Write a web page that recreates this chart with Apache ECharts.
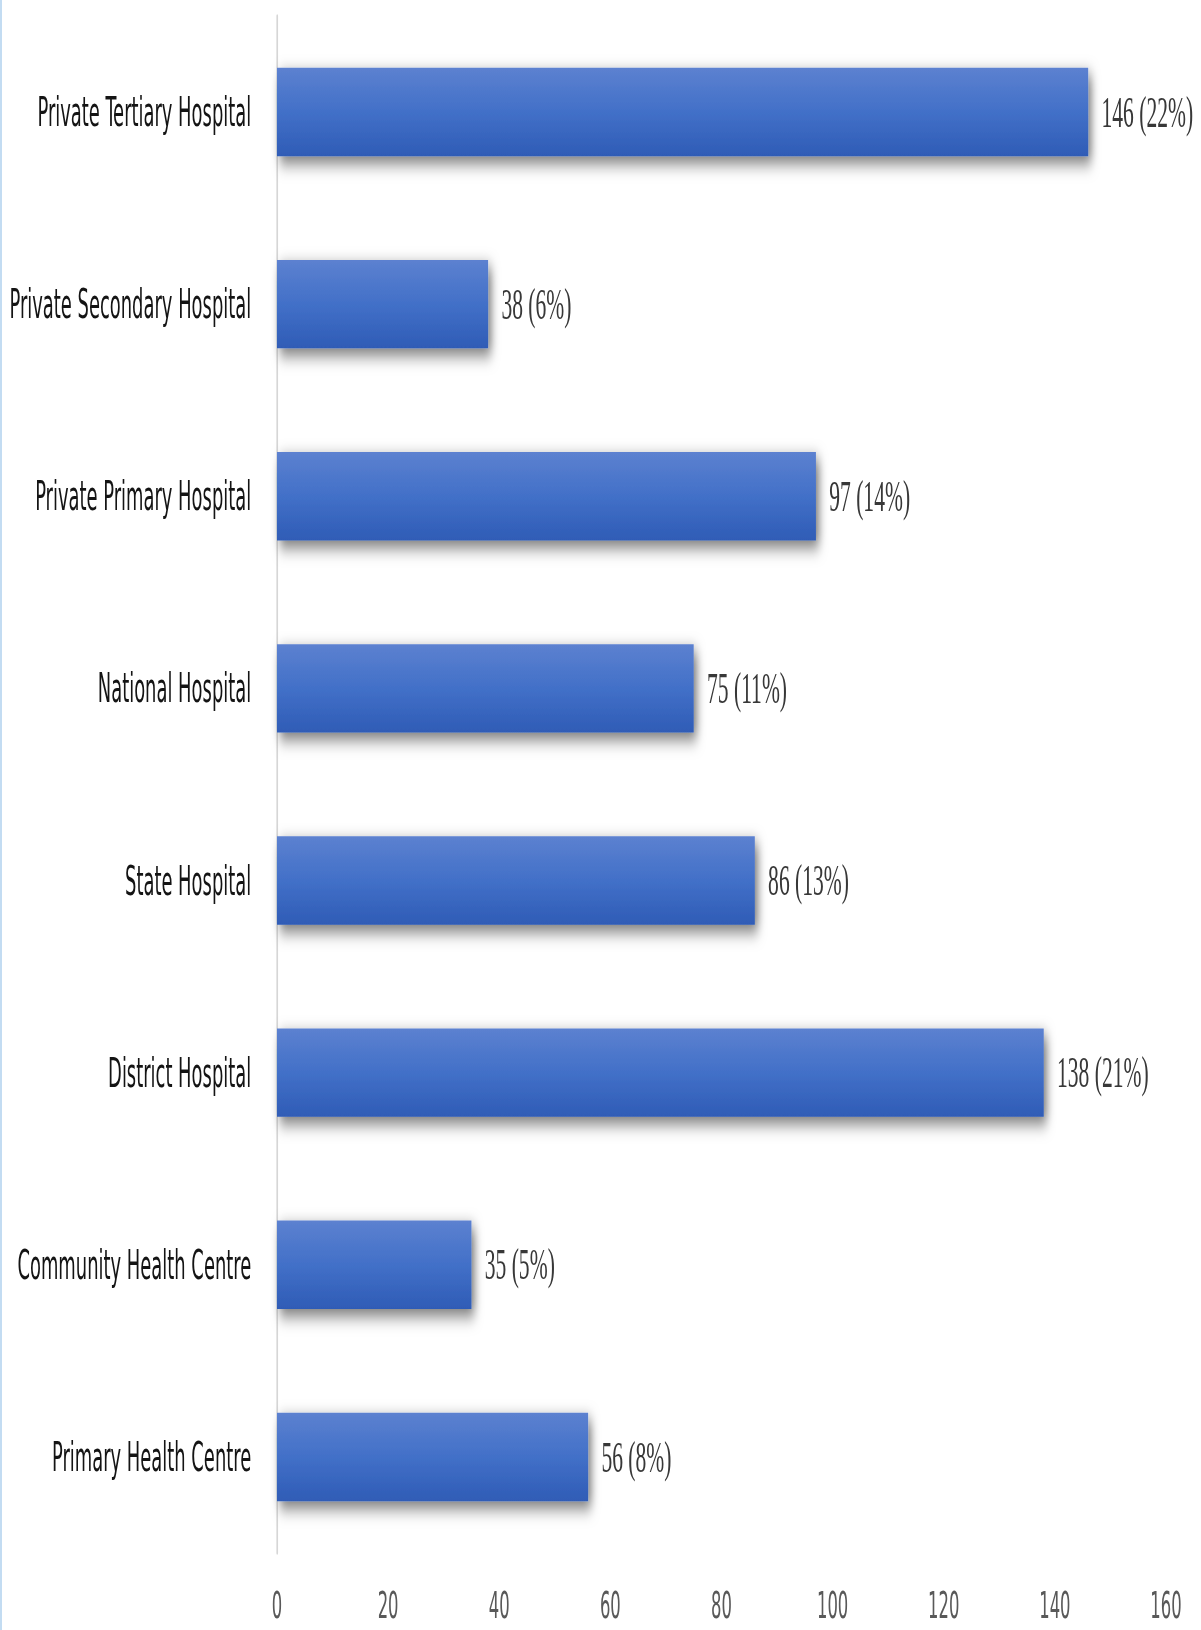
<!DOCTYPE html>
<html>
<head>
<meta charset="utf-8">
<script src="https://cdn.jsdelivr.net/npm/echarts@6/dist/echarts.min.js"></script>
<style>
  html, body { margin: 0; padding: 0; background: #ffffff; }
  #frame {
    position: relative;
    width: 1201px;
    height: 1630px;
    overflow: hidden;
    background: #ffffff;
  }
  #edge {
    position: absolute; left: 0; top: 0; width: 2px; height: 1630px;
    background: #c3dcf2; z-index: 2;
  }
  /* the chart is laid out wider and shorter, then squeezed horizontally and
     stretched vertically, which gives the tall, narrow lettering of the figure */
  #chart {
    position: absolute; left: 0; top: 0;
    width: 1447px; height: 959px;
    transform-origin: 0 0;
    transform: scale(0.83, 1.69969);
  }
</style>
</head>
<body>
<div id="frame">
  <div id="edge"></div>
  <div id="chart"></div>
</div>
<script>
// Facility types, listed top to bottom
const categories = [
  'Private Tertiary Hospital',
  'Private Secondary Hospital',
  'Private Primary Hospital',
  'National Hospital',
  'State Hospital',
  'District Hospital',
  'Community Health Centre',
  'Primary Health Centre'
];
// Number of respondents per facility type
const counts = [146, 38, 97, 75, 86, 138, 35, 56];
// Share of all respondents (%)
const shares = [22, 6, 14, 11, 13, 21, 5, 8];
// Value axis ticks
const xTicks = [0, 20, 40, 60, 80, 100, 120, 140, 160];

const chart = echarts.init(document.getElementById('chart'), null, { renderer: 'svg' });

const barFill = new echarts.graphic.LinearGradient(0, 0, 0, 1, [
  { offset: 0, color: '#5c81d0' },
  { offset: 0.5, color: '#4270c8' },
  { offset: 1, color: '#2f5cb6' }
]);

chart.setOption({
  animation: false,
  backgroundColor: 'transparent',
  grid: {
    left: 333.7, right: 42.2, top: 9.4, bottom: 45.3,
    containLabel: false,
    outerBoundsMode: 'none'
  },
  xAxis: {
    type: 'value',
    min: xTicks[0],
    max: xTicks[xTicks.length - 1],
    interval: xTicks[1] - xTicks[0],
    axisLine: { show: false },
    axisTick: { show: false },
    splitLine: { show: false },
    axisLabel: {
      color: '#595959',
      fontFamily: '"DejaVu Sans Condensed", "Liberation Sans Narrow", sans-serif',
      fontSize: 22,
      lineHeight: 18,
      margin: 22
    }
  },
  yAxis: {
    type: 'category',
    inverse: true,
    data: categories,
    axisLine: { show: true, lineStyle: { color: '#d6d6d6', width: 2 } },
    axisTick: { show: false },
    splitLine: { show: false },
    axisLabel: {
      color: '#141414',
      fontFamily: '"DejaVu Sans Condensed", "Liberation Sans Narrow", sans-serif',
      fontSize: 24,
      margin: 31
    }
  },
  series: [{
    type: 'bar',
    data: counts,
    barWidth: '46%',
    itemStyle: {
      color: barFill,
      shadowColor: 'rgba(0, 0, 0, 0.55)',
      shadowBlur: 10,
      shadowOffsetX: 3.5,
      shadowOffsetY: 4
    },
    label: {
      show: true,
      position: 'right',
      distance: 16,
      color: '#383838',
      fontFamily: '"Liberation Serif", "DejaVu Serif", serif',
      fontSize: 26,
      formatter: p => counts[p.dataIndex] + ' (' + shares[p.dataIndex] + '%)'
    }
  }]
});
</script>
</body>
</html>
